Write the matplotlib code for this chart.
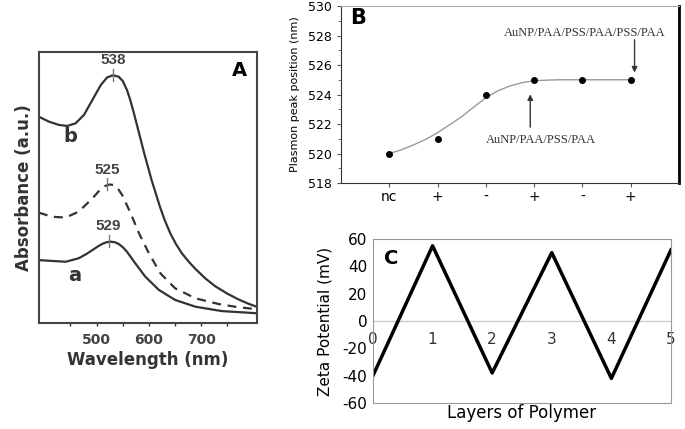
import matplotlib.pyplot as plt

plt.rcParams['axes.unicode_minus'] = False

# ---- panel A : absorbance spectra ----
wl_b = [390, 409, 428, 444, 460, 476, 492, 508, 520, 531, 542, 550, 558, 564, 571, 578, 591,
        605, 621, 630, 641, 652, 663, 676, 689, 708, 727, 750, 771, 790, 806]
abs_b = [0.761, 0.743, 0.731, 0.727, 0.737, 0.768, 0.823, 0.878, 0.906, 0.914, 0.909, 0.893,
         0.860, 0.825, 0.776, 0.724, 0.626, 0.528, 0.429, 0.380, 0.330, 0.290, 0.257, 0.226,
         0.199, 0.164, 0.135, 0.108, 0.087, 0.071, 0.060]
wl_d = [390, 415, 441, 466, 492, 506, 517, 525, 533, 541, 549, 565, 581, 600, 622, 650, 689,
        733, 771, 806]
abs_d = [0.407, 0.392, 0.389, 0.411, 0.460, 0.490, 0.506, 0.511, 0.509, 0.495, 0.472, 0.405,
         0.331, 0.257, 0.183, 0.128, 0.091, 0.070, 0.058, 0.051]
wl_a = [390, 415, 441, 466, 480, 492, 502, 511, 519, 527, 535, 542, 550, 558, 574, 593, 619,
        650, 689, 739, 806]
abs_a = [0.232, 0.229, 0.226, 0.239, 0.254, 0.269, 0.282, 0.292, 0.298, 0.300, 0.298, 0.292,
         0.280, 0.263, 0.220, 0.171, 0.122, 0.085, 0.060, 0.044, 0.036]
peak_lbl = ["538", "525", "529"]
peak_x = [531, 520, 523]
peak_y = [0.914, 0.509, 0.300]

# ---- panel B : plasmon peak position ----
layer_lbl = ["nc", "+", "-", "+", "-", "+"]
peak_pos = [520, 521, 524, 525, 525, 525]
fit_x = [0, 0.25, 0.5, 0.75, 1.0, 1.25, 1.5, 1.75, 2.0, 2.25, 2.5, 2.75, 3.0, 3.5, 5.0]
fit_y = [520.0, 520.25, 520.58, 520.95, 521.41, 521.95, 522.5, 523.15, 523.78, 524.25,
         524.58, 524.8, 524.94, 525.0, 525.0]

# ---- panel C : zeta potential ----
layers = [0, 1, 2, 3, 4, 5]
zeta = [-40, 55, -38, 50, -42, 52]

fig = plt.figure(figsize=(6.85, 4.29), dpi=100)
dk = '#333333'

# A
axA = fig.add_axes([0.0569, 0.2471, 0.318, 0.6317])
axA.plot(wl_b, abs_b, color=dk, lw=1.6)
axA.plot(wl_d, abs_d, color=dk, lw=1.6, ls=(0, (4, 3)))
axA.plot(wl_a, abs_a, color=dk, lw=1.6)
for t, x, y in zip(peak_lbl, peak_x, peak_y):
    axA.plot([x, x], [y - 0.02, y + 0.025], color='#777777', lw=1)
    axA.text(x, y + 0.057, t, ha='center', va='center', fontsize=11,
             fontweight='bold', color='#444444', family='Liberation Sans')
axA.text(450, 0.69, "b", ha='center', va='center', fontsize=14, fontweight='bold', color=dk)
axA.text(459, 0.177, "a", ha='center', va='center', fontsize=14, fontweight='bold', color=dk)
axA.text(0.92, 0.93, "A", transform=axA.transAxes, ha='center', va='center', fontsize=14,
         fontweight='bold', color='black')
axA.set_xlim(390, 806)
axA.set_ylim(0, 1)
axA.set_yticks([])
axA.set_xticks([500, 600, 700])
axA.set_xticks([450, 550, 650, 750], minor=True)
axA.tick_params(axis='x', length=2, width=1, color=dk, labelsize=10, pad=5)
axA.tick_params(axis='x', which='minor', length=2, width=1, color=dk)
for lb in axA.get_xticklabels():
    lb.set_fontweight('bold')
    lb.set_color('#444444')
for s in axA.spines.values():
    s.set_color('#444444')
    s.set_linewidth(1.5)
axA.set_xlabel("Wavelength (nm)", fontsize=12, fontweight='bold', color=dk, labelpad=3)
axA.set_ylabel("Absorbance (a.u.)", fontsize=12, fontweight='bold', color=dk, labelpad=4)

# B
axB = fig.add_axes([0.4978, 0.5734, 0.4934, 0.4126])
axB.plot(fit_x, fit_y, color='#999999', lw=1)
axB.plot(range(len(peak_pos)), peak_pos, 'o', color='black', ms=4)
axB.set_xlim(-1, 6)
axB.set_ylim(518, 530)
axB.set_xticks(range(len(layer_lbl)))
axB.set_xticklabels(layer_lbl, fontsize=10)
axB.set_yticks(range(518, 531, 2))
axB.set_yticks(range(518, 531), minor=True)
axB.tick_params(axis='both', labelsize=9, length=3, color='#555555')
axB.tick_params(axis='y', which='minor', length=2, color='#555555')
axB.tick_params(axis='x', labelsize=10, pad=2)
axB.spines['top'].set_color('#aaaaaa')
axB.spines['top'].set_linewidth(0.8)
axB.spines['right'].set_linewidth(2)
axB.spines['left'].set_color('#333333')
axB.spines['bottom'].set_color('#333333')
axB.set_ylabel("Plasmon peak position (nm)", fontsize=8, labelpad=6)
axB.annotate("", xy=(5.08, 525.3), xytext=(5.08, 527.9),
             arrowprops=dict(arrowstyle='-|>', color='#333333', lw=1, mutation_scale=8))
axB.text(4.04, 528.2, "AuNP/PAA/PSS/PAA/PSS/PAA", ha='center', va='center', fontsize=9,
         family='Liberation Serif', color='#333333')
axB.annotate("", xy=(2.92, 524.2), xytext=(2.92, 521.6),
             arrowprops=dict(arrowstyle='-|>', color='#333333', lw=1, mutation_scale=8))
axB.text(3.15, 520.9, "AuNP/PAA/PSS/PAA", ha='center', va='center', fontsize=9,
         family='Liberation Serif', color='#333333')
axB.text(-0.65, 529.2, "B", ha='center', va='center', fontsize=15, fontweight='bold')

# C
axC = fig.add_axes([0.5445, 0.0606, 0.435, 0.3823])
axC.axhline(0, color='#cccccc', lw=1)
axC.plot(layers, zeta, color='black', lw=2.5)
axC.set_xlim(0, 5)
axC.set_ylim(-60, 60)
axC.set_yticks(range(-60, 61, 20))
axC.set_xticks([])
axC.tick_params(axis='y', length=0, labelsize=11, pad=4)
for s in axC.spines.values():
    s.set_color('#999999')
    s.set_linewidth(0.8)
secC = axC.secondary_xaxis(0.5)
secC.xaxis.set_ticks_position('bottom')
secC.set_xticks(layers)
secC.tick_params(length=0, labelsize=11, pad=8, labelcolor='#333333')
for s in secC.spines.values():
    s.set_visible(False)
axC.set_ylabel("Zeta Potential (mV)", fontsize=11, labelpad=7)
axC.set_xlabel("Layers of Polymer", fontsize=12, labelpad=1)
axC.text(0.06, 0.88, "C", transform=axC.transAxes, ha='center', va='center', fontsize=14,
         fontweight='bold')

fig.savefig("out.png", dpi=100)
